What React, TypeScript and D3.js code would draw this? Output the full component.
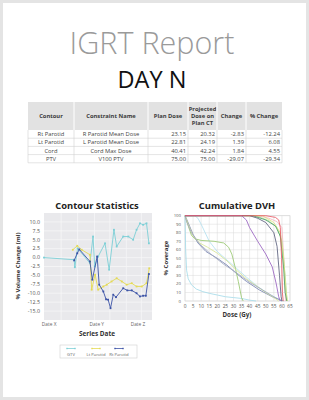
import React from "react";
import * as d3 from "d3";

const W = 309;
const H = 400;
const FONT = "'Open Sans', 'DejaVu Sans', sans-serif";

// ---- table data
const contours = ["Rt Parotid", "Lt Parotid", "Cord", "PTV"];
const constraints = ["R Parotid Mean Dose", "L Parotid Mean Dose", "Cord Max Dose", "V100 PTV"];
const planDose = [23.15, 22.81, 40.41, 75.0];
const projDose = [20.32, 24.19, 42.24, 75.0];
const doseChange = [-2.83, 1.39, 1.84, -29.07];
const pctChange = [-12.24, 6.08, 4.55, -29.34];

// ---- contour statistics (days from first image, % volume change)
const gtvDay = [0, 8.8, 9.0, 9.8, 13.4, 14.3, 14.8, 15.8, 17.8, 19, 20.4, 21.2, 23.1, 24.6, 26, 27, 28, 28.9, 29.9, 30.6];
const gtvVal = [0, -0.6, -2.7, 2.6, -1.6, 5.9, -2.5, 0.3, 4, -3.4, 7.8, 3.1, 5.9, 5.9, 5, 7.8, 9.6, 9.2, 9.6, 4];
const ltDay = [8.4, 9.7, 11, 13.4, 13.9, 14.9, 15.8, 17.3, 18.3, 19.7, 21.2, 22.7, 24.1, 25.6, 27, 28.5, 29.9, 30.7];
const ltVal = [2.2, 3.3, 2.2, 0.8, -9, -4.8, -9, -8.1, -7.6, -6.7, -5.8, -6.7, -7.6, -7.2, -8.1, -8.1, -7.2, -3];
const rtDay = [8.8, 9.7, 10.3, 13.4, 14.1, 15.5, 16.1, 17.3, 18.1, 18.7, 19.4, 20.2, 21, 23.1, 24.3, 25.6, 27, 28, 28.9, 29.7, 30.6];
const rtVal = [-0.8, 1.2, 2.3, -1.1, -6.2, 0.3, -7.6, -9.5, -11.7, -11.8, -14.2, -10.4, -11.1, -8.6, -9.2, -9.2, -10, -10.9, -10.7, -10.7, -4.6];
const dateTicks = [1.5, 15.4, 27.4];
const dateLabels = ["Date X", "Date Y", "Date Z"];
const seriesNames = ["GTV", "Lt Parotid", "Rt Parotid"];
const seriesColors = ["#7ccfd6", "#e4da55", "#3b52a6"];

// ---- cumulative DVH curves (dose Gy, % coverage)
const dvhCurves = [
  { color: "#a6dcea", dose: [0, 0.4, 1, 2, 4, 7, 11, 15, 20, 25, 30, 35, 40, 44], cov: [100, 60, 36, 26, 19, 14, 11, 9, 7, 5, 4, 3, 1, 0] },
  { color: "#b4e0f0", dose: [0, 6, 8, 10, 12, 15, 20, 26, 32, 38, 45, 52, 57, 60], cov: [100, 100, 97, 90, 82, 70, 58, 48, 38, 28, 17, 8, 3, 0] },
  { color: "#7682b0", dose: [0, 1, 3, 5, 8, 13, 20, 26, 32, 38, 46, 54, 58, 60], cov: [100, 96, 87, 78, 68, 58, 50, 42, 32, 23, 13, 5, 2, 0] },
  { color: "#98c870", dose: [0, 2, 4, 6, 10, 18, 24, 27, 29, 31, 33, 35, 36], cov: [100, 88, 77, 73, 71, 70, 68, 63, 55, 40, 23, 4, 0] },
  { color: "#d8e596", dose: [0, 2, 5, 9, 14, 20, 26, 32, 38, 44, 50, 55, 58], cov: [100, 90, 76, 68, 63, 56, 47, 36, 26, 18, 10, 4, 0] },
  { color: "#a4abc0", dose: [0, 1, 4, 9, 16, 24, 32, 40, 48, 55, 59, 61], cov: [100, 93, 80, 67, 55, 43, 33, 22, 13, 5, 1, 0] },
  { color: "#f2bac2", dose: [0, 45, 52, 57, 60, 61.5, 62.2], cov: [100, 100, 97, 93, 86, 40, 0] },
  { color: "#afdc9a", dose: [0, 44, 52, 57, 60, 62, 63.2], cov: [100, 100, 94, 86, 70, 30, 0] },
  { color: "#e0e584", dose: [0, 48, 55, 59, 61, 62.5, 63.4], cov: [100, 100, 92, 80, 52, 12, 0] },
  { color: "#4da266", dose: [0, 42, 50, 56, 59, 61, 62, 63], cov: [100, 100, 95, 88, 76, 40, 10, 0] },
  { color: "#5a5f7c", dose: [0, 40, 45, 50, 55, 57, 58.5, 59.5, 60], cov: [100, 100, 97, 92, 80, 64, 30, 5, 0] },
  { color: "#9862c0", dose: [0, 35, 38, 40, 45, 50, 54, 56.5, 58, 59], cov: [100, 100, 95, 86, 70, 55, 40, 20, 5, 0] },
  { color: "#ea5a66", dose: [0, 50, 56, 58, 59, 59.8, 60.3, 60.8], cov: [100, 100, 98, 95, 86, 50, 10, 0] },
];
const doseTicks = d3.range(0, 66, 5);
const covTicks = d3.range(0, 101, 10);

function Table() {
  const edges = [28, 74, 148, 188, 217, 246, 282];
  const top = 102;
  const headH = 28;
  const rowH = 8.2;
  const heads = [["Contour"], ["Constraint Name"], ["Plan Dose"], ["Projected", "Dose on", "Plan CT"], ["Change"], ["% Change"]];
  const rows = contours.map((c, i) => [
    c,
    constraints[i],
    planDose[i].toFixed(2),
    projDose[i].toFixed(2),
    doseChange[i].toFixed(2),
    pctChange[i].toFixed(2),
  ]);
  const tableBottom = top + headH + rowH * rows.length;
  return (
    <g fontFamily={FONT} fontSize={5.8}>
      <rect x={edges[0]} y={top} width={edges[6] - edges[0]} height={headH} fill="#e2e2e2" />
      {heads.map((h, j) => (
        <text
          key={j}
          x={(edges[j] + edges[j + 1]) / 2}
          y={top + headH / 2 - ((h.length - 1) * 7.4) / 2 + 2}
          textAnchor="middle"
          fontWeight={700}
          fill="#3a3a3a"
        >
          {h.map((t, k) => (
            <tspan key={k} x={(edges[j] + edges[j + 1]) / 2} dy={k === 0 ? 0 : 7.4}>
              {t}
            </tspan>
          ))}
        </text>
      ))}
      {edges.slice(1, 6).map((x, j) => (
        <line key={"hv" + j} x1={x} x2={x} y1={top} y2={top + headH} stroke="#fff" strokeWidth={1} />
      ))}
      {rows.map((r, i) => {
        const y = top + headH + i * rowH;
        return (
          <g key={i}>
            {r.map((t, j) => {
              const numeric = j >= 2;
              return (
                <text
                  key={j}
                  x={numeric ? edges[j + 1] - 2 : (edges[j] + edges[j + 1]) / 2}
                  y={y + rowH / 2 + 2}
                  textAnchor={numeric ? "end" : "middle"}
                  fill="#444"
                >
                  {t}
                </text>
              );
            })}
            <line x1={edges[0]} x2={edges[6]} y1={y + rowH} y2={y + rowH} stroke="#d2d2d2" strokeWidth={0.6} />
          </g>
        );
      })}
      {edges.map((x, j) => (
        <line key={"bv" + j} x1={x} x2={x} y1={top + headH} y2={tableBottom} stroke="#d2d2d2" strokeWidth={0.6} />
      ))}
    </g>
  );
}

function ContourChart() {
  const x = d3.scaleLinear().domain([0, 31.5]).range([44, 152]);
  const y = d3.scaleLinear().domain([-17.5, 12.5]).range([320, 213]);
  const yTicks = d3.range(-15, 10.01, 2.5);
  const gridDays = [5, 9.8, 14.7, 19.2, 24, 28.4];
  const series = [
    { day: gtvDay, val: gtvVal },
    { day: ltDay, val: ltVal },
    { day: rtDay, val: rtVal },
  ];
  const path = (s: { day: number[]; val: number[] }) =>
    d3
      .line<number>()
      .x((_, i) => x(s.day[i]))
      .y((d) => y(d))(s.val) as string;
  const legendX = [71, 96, 119];
  return (
    <g fontFamily={FONT}>
      <text x={97} y={209} textAnchor="middle" fontSize={9.4} fontWeight={700} fill="#222">
        Contour Statistics
      </text>
      <rect x={44} y={213} width={108} height={107} fill="#e9e9ec" />
      {yTicks.map((t) => (
        <line key={t} x1={44} x2={152} y1={y(t)} y2={y(t)} stroke="#f6f6f8" strokeWidth={0.8} />
      ))}
      {gridDays.map((t) => (
        <line key={t} x1={x(t)} x2={x(t)} y1={213} y2={320} stroke="#f6f6f8" strokeWidth={0.8} />
      ))}
      {yTicks.map((t) => (
        <text key={t} x={40} y={y(t) + 1.8} textAnchor="end" fontSize={5.3} fill="#555">
          {t.toFixed(1)}
        </text>
      ))}
      {dateTicks.map((t, i) => (
        <text key={t} x={x(t)} y={325.5} textAnchor="middle" fontSize={4.8} fill="#666">
          {dateLabels[i]}
        </text>
      ))}
      <text x={97} y={336} textAnchor="middle" fontSize={6.4} fontWeight={700} fill="#333">
        Series Date
      </text>
      <text
        transform="translate(20,266) rotate(-90)"
        textAnchor="middle"
        fontSize={6}
        fontWeight={700}
        fill="#333"
      >
        % Volume Change (ml)
      </text>
      {series.map((s, k) => (
        <g key={k}>
          <path d={path(s)} fill="none" stroke={seriesColors[k]} strokeWidth={0.9} />
          {s.val.map((v, i) => (
            <rect
              key={i}
              x={x(s.day[i]) - 0.9}
              y={y(v) - 0.9}
              width={1.8}
              height={1.8}
              fill={seriesColors[k]}
            />
          ))}
        </g>
      ))}
      <rect x={60} y={345} width={77} height={13} fill="#fff" stroke="#cfcfcf" strokeWidth={0.6} />
      {seriesNames.map((n, k) => (
        <g key={n}>
          <line x1={legendX[k] - 4} x2={legendX[k] + 4} y1={348.5} y2={348.5} stroke={seriesColors[k]} strokeWidth={0.8} />
          <rect x={legendX[k] - 4.7} y={347.8} width={1.4} height={1.4} fill={seriesColors[k]} />
          <rect x={legendX[k] + 3.3} y={347.8} width={1.4} height={1.4} fill={seriesColors[k]} />
          <text x={legendX[k]} y={355.5} textAnchor="middle" fontSize={4.2} fill="#666">
            {n}
          </text>
        </g>
      ))}
    </g>
  );
}

function DvhChart() {
  const x = d3.scaleLinear().domain([0, 65]).range([185, 290]);
  const y = d3.scaleLinear().domain([0, 100]).range([301, 215.7]);
  const path = (c: { dose: number[]; cov: number[] }) =>
    d3
      .line<number>()
      .x((d) => x(d))
      .y((_, i) => y(c.cov[i]))(c.dose) as string;
  return (
    <g fontFamily={FONT}>
      <text x={237} y={209} textAnchor="middle" fontSize={9.4} fontWeight={700} fill="#222">
        Cumulative DVH
      </text>
      <rect x={185} y={215.7} width={105} height={85.3} fill="#fff" stroke="#d8d8d8" strokeWidth={0.6} />
      {covTicks.map((t) => (
        <line key={t} x1={185} x2={290} y1={y(t)} y2={y(t)} stroke="#d8d8d8" strokeWidth={0.5} />
      ))}
      {doseTicks.map((t) => (
        <line key={t} x1={x(t)} x2={x(t)} y1={215.7} y2={301} stroke="#d8d8d8" strokeWidth={0.5} />
      ))}
      {covTicks.map((t) => (
        <text key={t} x={181} y={y(t) + 1.5} textAnchor="end" fontSize={4.3} fill="#555">
          {t}
        </text>
      ))}
      {doseTicks.map((t) => (
        <text key={t} x={x(t)} y={307.5} textAnchor="middle" fontSize={4.8} fill="#555">
          {t}
        </text>
      ))}
      <text x={237} y={317} textAnchor="middle" fontSize={6.2} fontWeight={700} fill="#333">
        Dose (Gy)
      </text>
      <text transform="translate(168,258) rotate(-90)" textAnchor="middle" fontSize={6} fontWeight={700} fill="#333">
        % Coverage
      </text>
      {dvhCurves.map((c, k) => (
        <path key={k} d={path(c)} fill="none" stroke={c.color} strokeWidth={0.85} />
      ))}
    </g>
  );
}

export default function App() {
  return (
    <svg width={W} height={H} style={{ position: "absolute", left: 0, top: 0 }}>
      <rect x={0} y={0} width={W} height={H} fill="#e4e4e4" />
      <rect x={3} y={3} width={303} height={394} fill="#fff" />
      <text x={152} y={54} textAnchor="middle" fontFamily={FONT} fontWeight={300} fontSize={30.5} fill="#9a9a9a">
        IGRT Report
      </text>
      <text x={152} y={88} textAnchor="middle" fontFamily={FONT} fontWeight={400} fontSize={23.5} fill="#111">
        DAY N
      </text>
      <Table />
      <ContourChart />
      <DvhChart />
    </svg>
  );
}
